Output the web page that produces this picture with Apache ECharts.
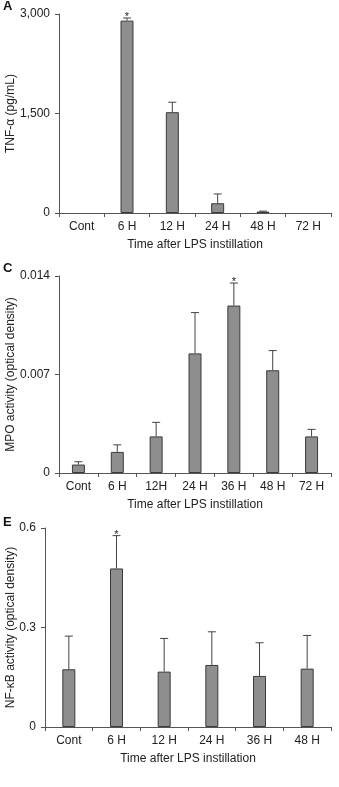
<!DOCTYPE html>
<html><head><meta charset="utf-8">
<script src="https://cdn.jsdelivr.net/npm/echarts@6/dist/echarts.min.js"></script>
<style>html,body{margin:0;padding:0;background:#fff}#c{width:339px;height:787px}</style>
</head><body><div id="c"></div>
<script>
// Panel A: TNF-alpha
const catsA = ['Cont', '6 H', '12 H', '24 H', '48 H', '72 H'];
const tnfMean = [0, 2900, 1520, 147, 20, 0];
const tnfErr = [0, 40, 150, 140, 8, 0];
const tnfSig = ['6 H'];
const ticksA = [0, 1500, 3000];

// Panel C: MPO activity
const catsC = ['Cont', '6 H', '12H', '24 H', '36 H', '48 H', '72 H'];
const mpoMean = [0.0006, 0.0015, 0.0026, 0.0085, 0.0119, 0.0073, 0.0026];
const mpoErr = [0.0002, 0.0005, 0.0010, 0.0029, 0.0016, 0.0014, 0.0005];
const mpoSig = ['36 H'];
const ticksC = [0, 0.007, 0.014];

// Panel E: NF-kB activity
const catsE = ['Cont', '6 H', '12 H', '24 H', '36 H', '48 H'];
const nfMean = [0.174, 0.478, 0.167, 0.187, 0.154, 0.176];
const nfErr = [0.10, 0.099, 0.10, 0.10, 0.10, 0.10];
const nfSig = ['6 H'];
const ticksE = [0, 0.3, 0.6];

const FONT = '"Liberation Sans", Arial, sans-serif';
const TXT = '#222';
const AX = '#555';

const panels = [
  {cats: catsA, mean: tnfMean, err: tnfErr, sig: tnfSig, ticks: ticksA, grid: {left: 59, right: 8, top: 14, height: 199},
   yName: 'TNF-α (pg/mL)', nameGap: 42, fmt: v => v.toLocaleString('en-US'), letter: 'A', ly: 0},
  {cats: catsC, mean: mpoMean, err: mpoErr, sig: mpoSig, ticks: ticksC, grid: {left: 59, right: 8, top: 276, height: 197},
   yName: 'MPO activity (optical density)', nameGap: 42, fmt: v => String(v), letter: 'C', ly: 262},
  {cats: catsE, mean: nfMean, err: nfErr, sig: nfSig, ticks: ticksE, grid: {left: 45, right: 8, top: 528, height: 199},
   yName: 'NF-κB activity (optical density)', nameGap: 28, fmt: v => String(v), letter: 'E', ly: 516}
];

const grid = [], xAxis = [], yAxis = [], series = [], graphic = [];
panels.forEach((p, i) => {
  grid.push(Object.assign({containLabel: false, outerBoundsMode: 'none'}, p.grid));
  xAxis.push({
    type: 'category', gridIndex: i, data: p.cats,
    axisLine: {lineStyle: {color: AX, width: 1}},
    axisTick: {show: true, length: 4, lineStyle: {color: AX}},
    axisLabel: {color: TXT, fontFamily: FONT, fontSize: 12, margin: 8},
    name: 'Time after LPS instillation', nameLocation: 'middle', nameGap: 26, nameMoveOverlap: false,
    nameTextStyle: {color: TXT, fontFamily: FONT, fontSize: 12}
  });
  const step = p.ticks[1] - p.ticks[0];
  yAxis.push({
    type: 'value', gridIndex: i, min: p.ticks[0], max: p.ticks[p.ticks.length - 1], interval: step,
    axisLine: {show: true, lineStyle: {color: AX, width: 1}},
    axisTick: {show: true, length: 4, lineStyle: {color: AX}},
    splitLine: {show: false},
    axisLabel: {color: TXT, fontFamily: FONT, fontSize: 12, margin: 9, formatter: p.fmt},
    name: p.yName, nameLocation: 'middle', nameGap: p.nameGap, nameRotate: 90, nameMoveOverlap: false,
    nameTextStyle: {color: TXT, fontFamily: FONT, fontSize: 12}
  });
  series.push({
    type: 'bar', xAxisIndex: i, yAxisIndex: i, data: p.mean.map(v => (v === 0 ? '-' : v)), barWidth: 13,
    itemStyle: {color: '#8e8e8e', borderColor: '#3a3a3a', borderWidth: 1},
    silent: true
  });
  series.push({
    type: 'custom', xAxisIndex: i, yAxisIndex: i,
    data: p.mean.map((m, k) => [k, m, p.err[k], p.sig.indexOf(p.cats[k]) >= 0 ? 1 : 0]),
    renderItem: function (params, api) {
      const k = api.value(0), m = api.value(1), e = api.value(2), s = api.value(3);
      const children = [];
      const base = api.coord([k, m]);
      const top = api.coord([k, m + e]);
      if (e > 0) {
        children.push({type: 'line', shape: {x1: base[0], y1: base[1], x2: top[0], y2: top[1]}, style: {stroke: '#444', lineWidth: 1}});
        children.push({type: 'line', shape: {x1: top[0] - 4, y1: top[1], x2: top[0] + 4, y2: top[1]}, style: {stroke: '#444', lineWidth: 1}});
      }
      if (s) {
        children.push({type: 'text', style: {text: '*', x: top[0], y: top[1] - 1, textAlign: 'center', textVerticalAlign: 'middle', fill: TXT, font: '11px ' + FONT}});
      }
      return {type: 'group', children: children};
    },
    z: 3, silent: true
  });
  graphic.push({type: 'text', left: 3, top: p.ly, style: {text: p.letter, font: 'bold 13px ' + FONT, fill: '#111'}});
});

const chart = echarts.init(document.getElementById('c'), null, {renderer: 'canvas'});
chart.setOption({animation: false, grid, xAxis, yAxis, series, graphic});
</script>
</body></html>
